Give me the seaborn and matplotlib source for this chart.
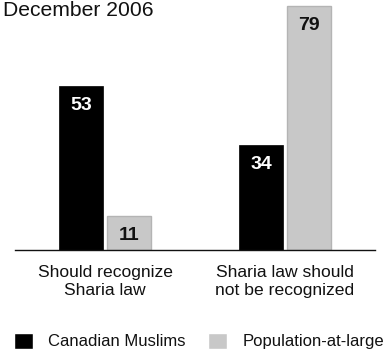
import matplotlib
matplotlib.use("Agg")
import matplotlib.pyplot as plt
import seaborn as sns
import pandas as pd

categories = ["Should recognize\nSharia law", "Sharia law should\nnot be recognized"]
groups = ["Canadian Muslims", "Population-at-large"]
canadian_muslims = [53, 34]
population_at_large = [11, 79]

df = pd.DataFrame({
    "category": categories * 2,
    "group": [groups[0]] * 2 + [groups[1]] * 2,
    "value": canadian_muslims + population_at_large,
})

sns.set_theme(style="white")
FONT = ["Liberation Sans", "DejaVu Sans"]
plt.rcParams["font.family"] = FONT

DPI = 100
W, H = 388, 356
fig = plt.figure(figsize=(W / DPI, H / DPI), dpi=DPI)
ax = fig.add_axes([15 / W, (H - 250) / H, 360 / W, 250 / H])

palette = {groups[0]: "#000000", groups[1]: "#c8c8c8"}
sns.barplot(data=df, x="category", y="value", hue="group", order=categories,
            hue_order=groups, palette=palette, width=0.534, gap=0.08,
            saturation=1, ax=ax, legend=True)

for container, grp in zip(ax.containers, groups):
    for bar in container:
        if grp == groups[1]:
            bar.set_edgecolor("#b4b4b4")
            bar.set_linewidth(1.0)
        else:
            bar.set_edgecolor("#000000")
            bar.set_linewidth(0.5)
    ax.bar_label(container, labels=[f"{v:.0f}" for v in container.datavalues],
                 padding=-20, fontsize=14, fontweight="bold",
                 color="white" if grp == groups[0] else "#111111")

ax.set_xlim(-0.5, 1.5)
ax.set_ylim(0, 81)
ax.set_xlabel("")
ax.set_ylabel("")
ax.set_yticks([])
for side in ("top", "right", "left"):
    ax.spines[side].set_visible(False)
ax.spines["bottom"].set_color("#111111")
ax.spines["bottom"].set_linewidth(1.0)
ax.tick_params(axis="x", length=0, pad=10.5, labelsize=12.6, labelcolor="#111111")
for lbl in ax.get_xticklabels():
    lbl.set_linespacing(1.3)

sns.move_legend(ax, "center left", bbox_to_anchor=(14 / W, 1 - 341 / H),
                bbox_transform=fig.transFigure, ncol=2, frameon=False,
                title=None, fontsize=12, handlelength=1.15, handleheight=1.15,
                handletextpad=0.9, columnspacing=1.35, borderpad=0,
                borderaxespad=0)
leg = ax.get_legend()
for txt in leg.get_texts():
    txt.set_color("#111111")

fig.text(3 / W, 1 - 16 / H, "December 2006", fontsize=15.2, color="#111111",
         ha="left", va="baseline")

fig.savefig("out.png", dpi=DPI)
